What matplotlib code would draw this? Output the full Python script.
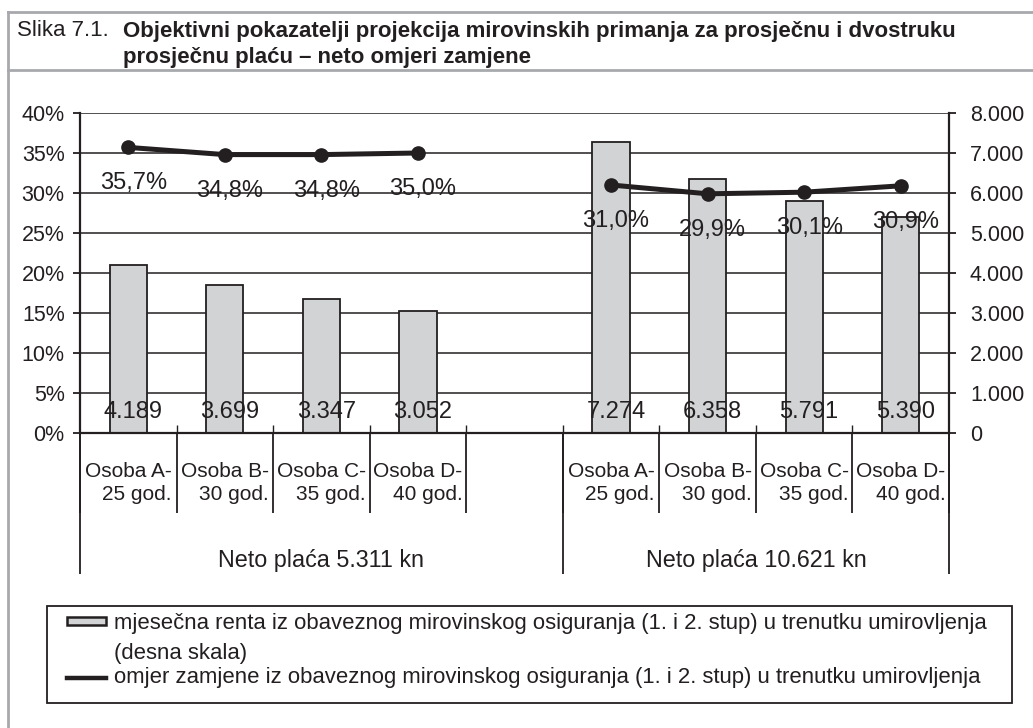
import matplotlib
matplotlib.use("Agg")
import matplotlib.pyplot as plt
from matplotlib.patches import Rectangle
from matplotlib.lines import Line2D
from matplotlib.ticker import FuncFormatter

plt.rcParams['font.family'] = ['Liberation Sans', 'DejaVu Sans']

# data
osobe = ["Osoba A-\n25 god.", "Osoba B-\n30 god.", "Osoba C-\n35 god.", "Osoba D-\n40 god."]
grupe = ["Neto plaća 5.311 kn", "Neto plaća 10.621 kn"]
renta = [[4189, 3699, 3347, 3052], [7274, 6358, 5791, 5390]]
omjer = [[35.7, 34.8, 34.8, 35.0], [31.0, 29.9, 30.1, 30.9]]
leg_renta = ["mjesečna renta iz obaveznog mirovinskog osiguranja (1. i 2. stup) u trenutku umirovljenja",
             "(desna skala)"]
leg_omjer = "omjer zamjene iz obaveznog mirovinskog osiguranja (1. i 2. stup) u trenutku umirovljenja"

INK = '#231f20'
BAR = '#d1d3d4'
FRAME = '#a7a9ac'
W, H = 1033, 728

fig = plt.figure(figsize=(W / 100, H / 100), dpi=100)


def px(x, y):
    return x / W, 1 - y / H


# frame around the figure
fig.add_artist(Line2D([8 / W, 1], [1 - 12 / H] * 2, color=FRAME, lw=2))
fig.add_artist(Line2D([8 / W, 1], [1 - 70 / H] * 2, color=FRAME, lw=2))
fig.add_artist(Line2D([8 / W] * 2, [0, 1 - 12 / H], color=FRAME, lw=2))

# title
fig.text(*px(17, 31), "Slika 7.1.", fontsize=16, color=INK, va='center')
fig.text(*px(123, 31), "Objektivni pokazatelji projekcija mirovinskih primanja za prosječnu i dvostruku",
         fontsize=16, fontweight='bold', color=INK, va='center')
fig.text(*px(123, 58), "prosječnu plaću – neto omjeri zamjene",
         fontsize=16, fontweight='bold', color=INK, va='center')

ax = fig.add_axes([80 / W, 1 - 433 / H, 869 / W, 320 / H])
ax2 = ax.twinx()

n_slots = len(osobe) * 2 + 1
ax.set_xlim(-0.5, n_slots - 0.5)

# bars (right scale)
for g in range(2):
    xs = [g * (len(osobe) + 1) + i for i in range(len(osobe))]
    ax.bar(xs, renta[g], width=0.385, color=BAR, edgecolor=INK, lw=1.3, zorder=2)
    for x, v in zip(xs, renta[g]):
        ax.annotate(f"{v:,}".replace(',', '.'), (x, 0), xytext=(5, 21), textcoords='offset pixels',
                    ha='center', va='center', fontsize=17, color=INK, zorder=4)

ax.set_ylim(0, 8000)
ax.set_yticks(range(0, 8001, 1000))
ax.yaxis.set_major_formatter(FuncFormatter(lambda v, p: f"{int(v):,}".replace(',', '.')))
ax.yaxis.tick_right()
ax.grid(axis='y', color=INK, lw=1.1, zorder=0)
ax.set_axisbelow(True)

# line (left scale)
for g in range(2):
    xs = [g * (len(osobe) + 1) + i for i in range(len(osobe))]
    ax2.plot(xs, omjer[g], color=INK, lw=3.6, marker='o', ms=9.5, zorder=5)
    for x, v in zip(xs, omjer[g]):
        ax2.annotate(f"{v:.1f}%".replace('.', ','), (x, v), xytext=(5, -36), textcoords='offset pixels',
                     ha='center', va='center', fontsize=17, color=INK)

ax2.set_ylim(0, 40)
ax2.set_yticks(range(0, 41, 5))
ax2.yaxis.set_major_formatter(FuncFormatter(lambda v, p: f"{int(v)}%"))
ax2.yaxis.tick_left()

for a in (ax, ax2):
    for s in a.spines.values():
        s.set_visible(False)
    a.tick_params(axis='y', length=7 * 0.72, width=1.3, color=INK, labelsize=15.5, labelcolor=INK)
ax2.tick_params(axis='y', pad=6)
ax.tick_params(axis='y', pad=10)
for k in ('left', 'right', 'bottom'):
    ax.spines[k].set_visible(True)
    ax.spines[k].set_linewidth(1.6)
    ax.spines[k].set_color(INK)
ax.set_xticks([])

# multi-level category axis
bounds = [i - 0.5 for i in range(n_slots + 1)]
tr = ax.get_xaxis_transform()
ax.vlines(bounds[1:-1], 0, 8 / 320, transform=tr, color=INK, lw=1, clip_on=False)
ax.vlines(bounds, -80 / 320, 0, transform=tr, color=INK, lw=1.3, clip_on=False)
ax.vlines([bounds[0], bounds[len(osobe) + 1], bounds[-1]], -141 / 320, 0, transform=tr,
          color=INK, lw=1.3, clip_on=False)

for g in range(2):
    for i, lab in enumerate(osobe):
        x = g * (len(osobe) + 1) + i
        ax.text(x, -50 / 320, lab, transform=tr, ha='center', va='center', multialignment='right',
                fontsize=15, color=INK, linespacing=1.3)
gx = [(bounds[0] + bounds[len(osobe) + 1]) / 2, (bounds[len(osobe) + 1] + bounds[-1]) / 2]
for x, lab in zip(gx, grupe):
    ax.text(x, -127 / 320, lab, transform=tr, ha='center', va='center', fontsize=16.8, color=INK)

# legend drawn by hand
fig.add_artist(Rectangle(px(47, 703), 965 / W, 97 / H, fill=False, ec=INK, lw=1.3))
fig.add_artist(Rectangle(px(67, 625), 39 / W, 8 / H, fc=BAR, ec=INK, lw=1.8))
fig.add_artist(Line2D([67 / W, 106 / W], [1 - 678 / H] * 2, color=INK, lw=3.2))
fig.text(*px(114, 623), leg_renta[0], fontsize=15.9, color=INK, va='center')
fig.text(*px(114, 653), leg_renta[1], fontsize=15.9, color=INK, va='center')
fig.text(*px(114, 678), leg_omjer, fontsize=15.9, color=INK, va='center')

fig.savefig("out.png", dpi=100)
